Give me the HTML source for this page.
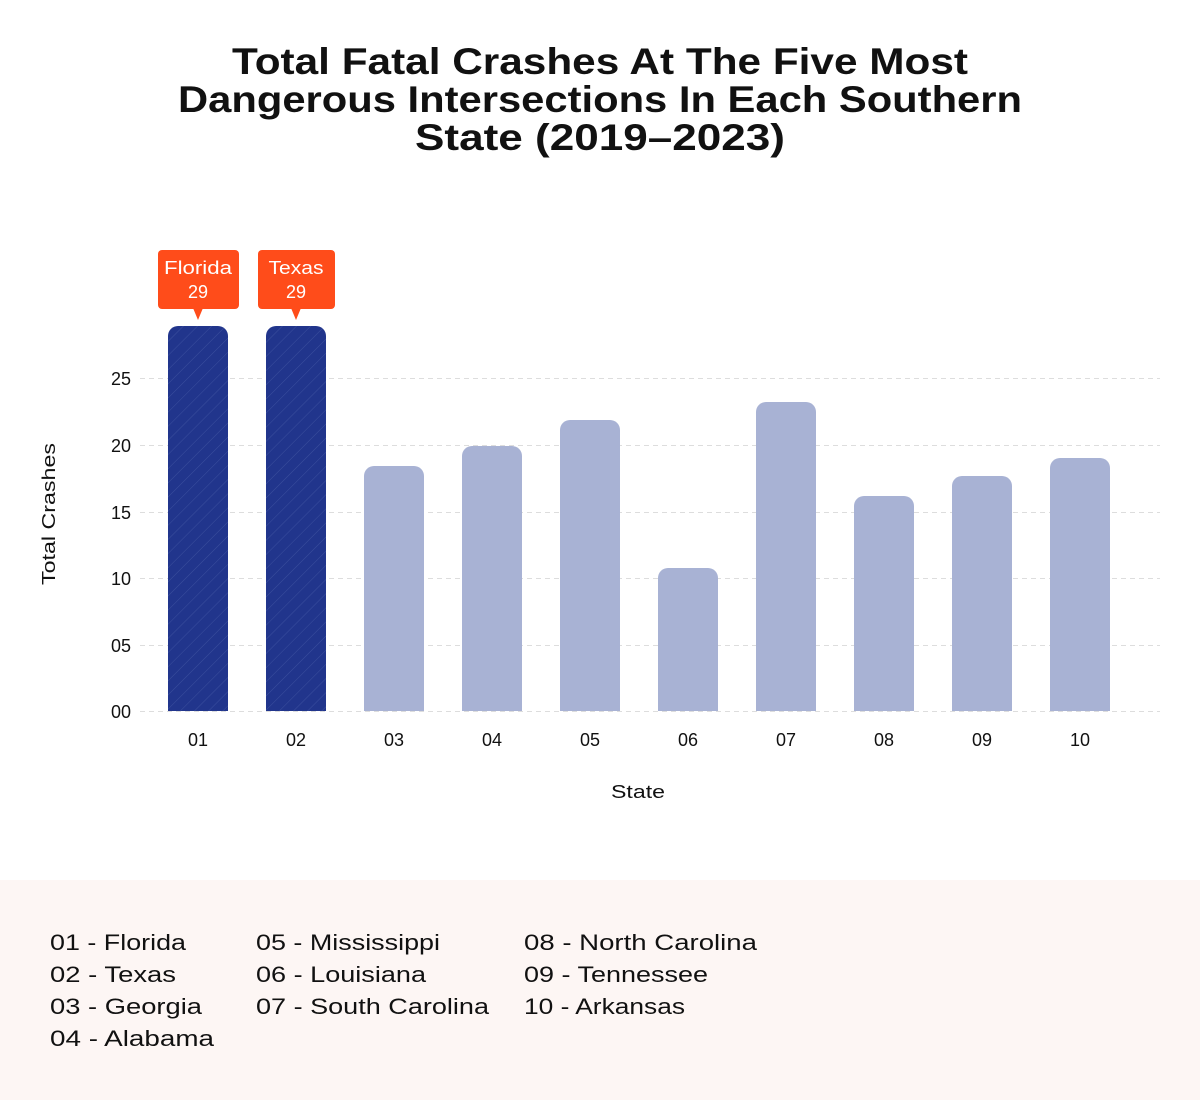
<!DOCTYPE html>
<html><head><style>
body{margin:0;background:#fff;width:1200px;height:1100px;overflow:hidden;font-family:"Liberation Sans",sans-serif;}
</style></head><body>
<svg width="1200" height="1100" xmlns="http://www.w3.org/2000/svg" font-family="Liberation Sans, sans-serif">
<defs>
<pattern id="h" width="10" height="10" patternUnits="userSpaceOnUse" patternTransform="rotate(45)">
<rect width="10" height="10" fill="#21358c"/><line x1="0" y1="0" x2="0" y2="10" stroke="#3b4f9e" stroke-width="1"/>
</pattern>
</defs>
<g font-size="37" font-weight="bold" fill="#111" text-anchor="middle" lengthAdjust="spacingAndGlyphs">
<text x="600" y="74" textLength="736" lengthAdjust="spacingAndGlyphs">Total Fatal Crashes At The Five Most</text>
<text x="600" y="112" textLength="844" lengthAdjust="spacingAndGlyphs">Dangerous Intersections In Each Southern</text>
<text x="600" y="150" textLength="370" lengthAdjust="spacingAndGlyphs">State (2019–2023)</text>
</g>
<g stroke="#ddd" stroke-dasharray="5,4" stroke-width="1">
<line x1="140" x2="1160" y1="378.5" y2="378.5"/><line x1="140" x2="1160" y1="445.5" y2="445.5"/>
<line x1="140" x2="1160" y1="512.5" y2="512.5"/><line x1="140" x2="1160" y1="578.5" y2="578.5"/>
<line x1="140" x2="1160" y1="645.5" y2="645.5"/><line x1="140" x2="1160" y1="711.5" y2="711.5"/>
</g>
<g font-size="18" fill="#111" text-anchor="end">
<text x="131" y="385">25</text><text x="131" y="452">20</text><text x="131" y="519">15</text>
<text x="131" y="585">10</text><text x="131" y="652">05</text><text x="131" y="718">00</text>
</g>
<text transform="translate(55,514) rotate(-90)" font-size="18" fill="#111" text-anchor="middle" textLength="142" lengthAdjust="spacingAndGlyphs">Total Crashes</text>
<path d="M168 711V336a10 10 0 0 1 10-10h40a10 10 0 0 1 10 10V711z" fill="url(#h)"/>
<path d="M266 711V336a10 10 0 0 1 10-10h40a10 10 0 0 1 10 10V711z" fill="url(#h)"/>
<g fill="#a8b2d4">
<path d="M364 711V476a10 10 0 0 1 10-10h40a10 10 0 0 1 10 10V711z"/>
<path d="M462 711V456a10 10 0 0 1 10-10h40a10 10 0 0 1 10 10V711z"/>
<path d="M560 711V430a10 10 0 0 1 10-10h40a10 10 0 0 1 10 10V711z"/>
<path d="M658 711V578a10 10 0 0 1 10-10h40a10 10 0 0 1 10 10V711z"/>
<path d="M756 711V412a10 10 0 0 1 10-10h40a10 10 0 0 1 10 10V711z"/>
<path d="M854 711V506a10 10 0 0 1 10-10h40a10 10 0 0 1 10 10V711z"/>
<path d="M952 711V486a10 10 0 0 1 10-10h40a10 10 0 0 1 10 10V711z"/>
<path d="M1050 711V468a10 10 0 0 1 10-10h40a10 10 0 0 1 10 10V711z"/>
</g>
<g fill="#ff4c1a">
<rect x="158" y="250" width="81" height="59" rx="4"/><path d="M193 308h10l-5 12z"/>
<rect x="258" y="250" width="77" height="59" rx="4"/><path d="M291 308h10l-5 12z"/>
</g>
<g fill="#fff" font-size="18" text-anchor="middle">
<text x="198" y="274" textLength="68" lengthAdjust="spacingAndGlyphs">Florida</text><text x="198" y="298">29</text>
<text x="296" y="274" textLength="55" lengthAdjust="spacingAndGlyphs">Texas</text><text x="296" y="298">29</text>
</g>
<g font-size="18" fill="#111" text-anchor="middle">
<text x="198" y="746">01</text><text x="296" y="746">02</text><text x="394" y="746">03</text>
<text x="492" y="746">04</text><text x="590" y="746">05</text><text x="688" y="746">06</text>
<text x="786" y="746">07</text><text x="884" y="746">08</text><text x="982" y="746">09</text>
<text x="1080" y="746">10</text>
<text x="638" y="798" textLength="54" lengthAdjust="spacingAndGlyphs">State</text>
</g>
<rect x="0" y="880" width="1200" height="220" fill="#fdf6f4"/>
<g font-size="22" fill="#111">
<text x="50" y="950" textLength="136" lengthAdjust="spacingAndGlyphs">01 - Florida</text>
<text x="50" y="982" textLength="126" lengthAdjust="spacingAndGlyphs">02 - Texas</text>
<text x="50" y="1014" textLength="152" lengthAdjust="spacingAndGlyphs">03 - Georgia</text>
<text x="50" y="1046" textLength="164" lengthAdjust="spacingAndGlyphs">04 - Alabama</text>
<text x="256" y="950" textLength="184" lengthAdjust="spacingAndGlyphs">05 - Mississippi</text>
<text x="256" y="982" textLength="170" lengthAdjust="spacingAndGlyphs">06 - Louisiana</text>
<text x="256" y="1014" textLength="233" lengthAdjust="spacingAndGlyphs">07 - South Carolina</text>
<text x="524" y="950" textLength="233" lengthAdjust="spacingAndGlyphs">08 - North Carolina</text>
<text x="524" y="982" textLength="184" lengthAdjust="spacingAndGlyphs">09 - Tennessee</text>
<text x="524" y="1014" textLength="161" lengthAdjust="spacingAndGlyphs">10 - Arkansas</text>
</g>
</svg>
</body></html>
